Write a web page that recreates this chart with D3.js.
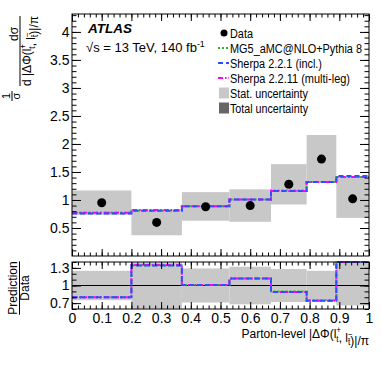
<!DOCTYPE html>
<html><head><meta charset="utf-8">
<script src="https://cdn.jsdelivr.net/npm/d3@7"></script>
<style>
body{margin:0;background:#fff;}
text{font-family:"Liberation Sans",Arial,sans-serif;fill:#000;}
</style></head>
<body><svg id="c" width="382" height="367"></svg>
<script>
// ---- data ----
const binEdges = [0, 0.2, 0.37, 0.53, 0.67, 0.79, 0.89, 1.0];
const dataValues = [0.95, 0.60, 0.88, 0.90, 1.28, 1.73, 1.02];
const statLow  = [0.73, 0.37, 0.63, 0.61, 0.92, 1.31, 0.68];
const statHigh = [1.17, 0.83, 1.14, 1.19, 1.64, 2.16, 1.42];
const predMG5      = [0.77, 0.81, 0.89, 1.01, 1.17, 1.32, 1.41];
const predSherpa221  = [0.76, 0.81, 0.89, 1.01, 1.16, 1.32, 1.43];
const predSherpa2211 = [0.77, 0.82, 0.89, 1.01, 1.16, 1.32, 1.41];
const ratioMG5      = [0.80, 1.34, 1.01, 1.12, 0.90, 0.75, 1.41];
const ratioSherpa221  = [0.80, 1.34, 1.01, 1.12, 0.89, 0.74, 1.41];
const ratioSherpa2211 = [0.80, 1.35, 1.01, 1.12, 0.89, 0.74, 1.41];
const ratioStatLow  = [0.75, 0.61, 0.71, 0.68, 0.72, 0.75, 0.66];
const ratioStatHigh = [1.25, 1.39, 1.29, 1.32, 1.28, 1.25, 1.39];
const xTicks = [0, 0.1, 0.2, 0.3, 0.4, 0.5, 0.6, 0.7, 0.8, 0.9, 1];
const xTickLabels = ["0","0.1","0.2","0.3","0.4","0.5","0.6","0.7","0.8","0.9","1"];
const yTicksMain = [0.5, 1, 1.5, 2, 2.5, 3, 3.5, 4];
const yTickLabelsMain = ["0.5","1","1.5","2","2.5","3","3.5","4"];
const yTicksRatio = [0.7, 1, 1.3];
const yTickLabelsRatio = ["0.7","1","1.3"];
const legendLabels = ["Data","MG5_aMC@NLO+Pythia 8","Sherpa 2.2.1 (incl.)","Sherpa 2.2.11 (multi-leg)","Stat. uncertainty","Total uncertainty"];

// ---- layout ----
const L = 72, R = 369, mainTop = 14, mainBot = 256, ratTop = 262, ratBot = 309;
const svg = d3.select("#c");
const x = d3.scaleLinear().domain([0,1]).range([L,R]);
const y = d3.scaleLinear().domain([0,4.32]).range([mainBot,mainTop]);
const yr = d3.scaleLinear().domain([0.6,1.4]).range([ratBot,ratTop]);

const styles = [
  {vals: predMG5, rat: ratioMG5, color:"#2fb02f", dash:"2,2"},
  {vals: predSherpa2211, rat: ratioSherpa2211, color:"#ff00ff", dash:"5,2,1.5,2"},
  {vals: predSherpa221, rat: ratioSherpa221, color:"#2d4dff", dash:"5,3"}
];
const bandColor = "#c8c8c8";

function stepPts(vals, sc){
  const dom = sc.domain();
  const pts = vals.map((v,i)=>[binEdges[i], Math.max(dom[0], Math.min(dom[1], v))]);
  pts.push([binEdges[binEdges.length-1], pts[pts.length-1][1]]);
  return pts;
}
function drawBand(g, sc, lows, highs){
  const n = dataValues.length, dom = sc.domain();
  g.selectAll("rect.band").data(d3.range(n)).join("rect").attr("class","band")
    .attr("x", i=>x(binEdges[i])).attr("width", i=>x(binEdges[i+1])-x(binEdges[i]))
    .attr("y", i=>sc(Math.min(highs[i], dom[1])))
    .attr("height", i=>sc(Math.max(lows[i], dom[0]))-sc(Math.min(highs[i], dom[1])))
    .attr("fill", bandColor);
}

// main panel
const gm = svg.append("g");
drawBand(gm, y, statLow, statHigh);
const lineM = d3.line().x(d=>x(d[0])).y(d=>y(d[1])).curve(d3.curveStepAfter);
styles.forEach(s=>{
  gm.append("path").attr("d", lineM(stepPts(s.vals, y))).attr("fill","none")
    .attr("stroke", s.color).attr("stroke-width",2).attr("stroke-dasharray", s.dash);
});
gm.selectAll("circle.pt").data(dataValues).join("circle").attr("class","pt")
  .attr("cx",(d,i)=>x((binEdges[i]+binEdges[i+1])/2)).attr("cy",d=>y(d)).attr("r",4.5).attr("fill","#000");

// ratio panel
const gr = svg.append("g");
drawBand(gr, yr, ratioStatLow, ratioStatHigh);
gr.append("line").attr("x1",L).attr("x2",R).attr("y1",yr(1)).attr("y2",yr(1)).attr("stroke","#000").attr("stroke-width",1.2);
const lineR = d3.line().x(d=>x(d[0])).y(d=>yr(d[1])).curve(d3.curveStepAfter);
styles.forEach(s=>{
  gr.append("path").attr("d", lineR(stepPts(s.rat, yr))).attr("fill","none")
    .attr("stroke", s.color).attr("stroke-width",2).attr("stroke-dasharray", s.dash);
});

// ---- axes ----
const minorX = d3.range(0, 1.0001, 0.02).map(v=>+v.toFixed(2));
function axisG(gen, tx, ty){
  const g = svg.append("g").attr("transform",`translate(${tx},${ty})`).call(gen);
  g.select(".domain").remove();
  g.selectAll("line").attr("stroke","#000");
  g.selectAll("text").style("font-family","'Liberation Sans',Arial,sans-serif").style("font-size","14px");
  return g;
}
[[mainBot, d3.axisBottom],[mainTop, d3.axisTop]].forEach(([yy, ax])=>{
  axisG(ax(x).tickValues(minorX).tickSize(-3.5).tickFormat(""), 0, yy);
  axisG(ax(x).tickValues(xTicks).tickSize(-7).tickFormat(""), 0, yy);
});
axisG(d3.axisTop(x).tickValues(minorX).tickSize(-3.5).tickFormat(""), 0, ratTop);
axisG(d3.axisTop(x).tickValues(xTicks).tickSize(-7).tickFormat(""), 0, ratTop);
axisG(d3.axisBottom(x).tickValues(minorX).tickSize(-3.5).tickFormat(""), 0, ratBot);
axisG(d3.axisBottom(x).tickValues(xTicks).tickSize(-7).tickPadding(4).tickFormat((d,i)=>xTickLabels[i]), 0, ratBot);
const minorYMain = d3.range(0.1, 4.32, 0.1).map(v=>+v.toFixed(1));
axisG(d3.axisLeft(y).tickValues(minorYMain).tickSize(-4.5).tickFormat(""), L, 0);
axisG(d3.axisLeft(y).tickValues(yTicksMain).tickSize(-9).tickPadding(2.5).tickFormat((d,i)=>yTickLabelsMain[i]), L, 0);
axisG(d3.axisRight(y).tickValues(minorYMain).tickSize(-4.5).tickFormat(""), R, 0);
axisG(d3.axisRight(y).tickValues(yTicksMain).tickSize(-9).tickFormat(""), R, 0);
const minorYR = [0.6,0.7,0.8,0.9,1.0,1.1,1.2,1.3,1.4];
axisG(d3.axisLeft(yr).tickValues(minorYR).tickSize(-4.5).tickFormat(""), L, 0);
axisG(d3.axisLeft(yr).tickValues(yTicksRatio).tickSize(-9).tickPadding(2.5).tickFormat((d,i)=>yTickLabelsRatio[i]), L, 0);
axisG(d3.axisRight(yr).tickValues(minorYR).tickSize(-4.5).tickFormat(""), R, 0);
axisG(d3.axisRight(yr).tickValues(yTicksRatio).tickSize(-9).tickFormat(""), R, 0);

svg.append("rect").attr("x",L).attr("y",mainTop).attr("width",R-L).attr("height",mainBot-mainTop).attr("fill","none").attr("stroke","#000").attr("stroke-width",1);
svg.append("rect").attr("x",L).attr("y",ratTop).attr("width",R-L).attr("height",ratBot-ratTop).attr("fill","none").attr("stroke","#000").attr("stroke-width",1);

// ---- latex-ish helper ----
function rich(t, parts, fs){
  const small = fs*0.68;
  parts.forEach(p=>{
    if (typeof p === "string"){ t.append("tspan").text(p); return; }
    const up = fs*0.42, down = fs*0.3;
    const s1 = t.append("tspan").attr("dy", -up).style("font-size", small+"px").text(p.sup);
    const w1 = s1.node().getComputedTextLength();
    const s2 = t.append("tspan").attr("dx", -w1).attr("dy", up+down).style("font-size", small+"px").text(p.sub);
    const w2 = s2.node().getComputedTextLength();
    t.append("tspan").attr("dx", Math.max(0, w1-w2)).attr("dy", -down).text("");
  });
}
const obsParts = ["|ΔΦ(l", {sup:"+", sub:"t"}, ", l", {sup:"−", sub:"t\u0304"}, ")|/π"];

// x-axis title
const xt = svg.append("text").attr("x", R).attr("y", 338).attr("text-anchor","end").style("font-size","12px");
rich(xt, ["Parton-level "].concat(obsParts), 12);

// main y title (rotated)
const yt = svg.append("g").attr("transform","rotate(-90)");
const den = yt.append("text").attr("x",-51).attr("y",31).attr("text-anchor","middle").style("font-size","12px");
rich(den, ["d "].concat(obsParts), 12);
const bb = den.node().getBBox();
yt.append("line").attr("x1", bb.x).attr("x2", bb.x+bb.width).attr("y1",20).attr("y2",20).attr("stroke","#000").attr("stroke-width",1);
yt.append("text").attr("x",-34).attr("y",17.5).attr("text-anchor","middle").style("font-size","12px").text("dσ");
yt.append("text").attr("x",-96).attr("y",10).attr("text-anchor","middle").style("font-size","11px").text("1");
yt.append("line").attr("x1",-101).attr("x2",-91).attr("y1",12).attr("y2",12).attr("stroke","#000").attr("stroke-width",1);
yt.append("text").attr("x",-96).attr("y",19.5).attr("text-anchor","middle").style("font-size","11px").text("σ");

// ratio y title
const rt = svg.append("g").attr("transform","rotate(-90)");
const pr = rt.append("text").attr("x",-288).attr("y",16.5).attr("text-anchor","middle").style("font-size","12px").text("Prediction");
const pb = pr.node().getBBox();
rt.append("line").attr("x1",pb.x).attr("x2",pb.x+pb.width).attr("y1",19.5).attr("y2",19.5).attr("stroke","#000").attr("stroke-width",1);
rt.append("text").attr("x",-288).attr("y",29).attr("text-anchor","middle").style("font-size","12px").text("Data");

// ATLAS label
svg.append("text").attr("x",88).attr("y",33).style("font-size","13.5px").style("font-weight","bold").style("font-style","italic").text("ATLAS");
const en = svg.append("text").attr("x",86).attr("y",52).style("font-size","13px");
en.append("tspan").text("√s = 13 TeV, 140 fb");
en.append("tspan").attr("dy",-5).style("font-size","9px").text("-1");

// ---- legend ----
const lx = 230, rows = [33, 48, 63, 78, 93, 108];
const legendWidths = [23, 132, 92, 120, 78, 78];
const lg = svg.append("g");
lg.selectAll("text").data(legendLabels).join("text").attr("x",lx).attr("y",(d,i)=>rows[i]+4.5)
  .style("font-size","12.5px").attr("textLength",(d,i)=>legendWidths[i]).attr("lengthAdjust","spacingAndGlyphs").text(d=>d);
lg.append("circle").attr("cx",224).attr("cy",rows[0]).attr("r",3.5).attr("fill","#000");
[styles[0], styles[2], styles[1]].forEach((s,k)=>{
  lg.append("line").attr("x1",218).attr("x2",229).attr("y1",rows[k+1]).attr("y2",rows[k+1])
    .attr("stroke",s.color).attr("stroke-width",2).attr("stroke-dasharray",s.dash);
});
lg.append("rect").attr("x",219).attr("y",rows[4]-5.5).attr("width",10).attr("height",11).attr("fill",bandColor);
lg.append("rect").attr("x",219).attr("y",rows[5]-5.5).attr("width",10).attr("height",11).attr("fill","#666");
</script></body></html>
